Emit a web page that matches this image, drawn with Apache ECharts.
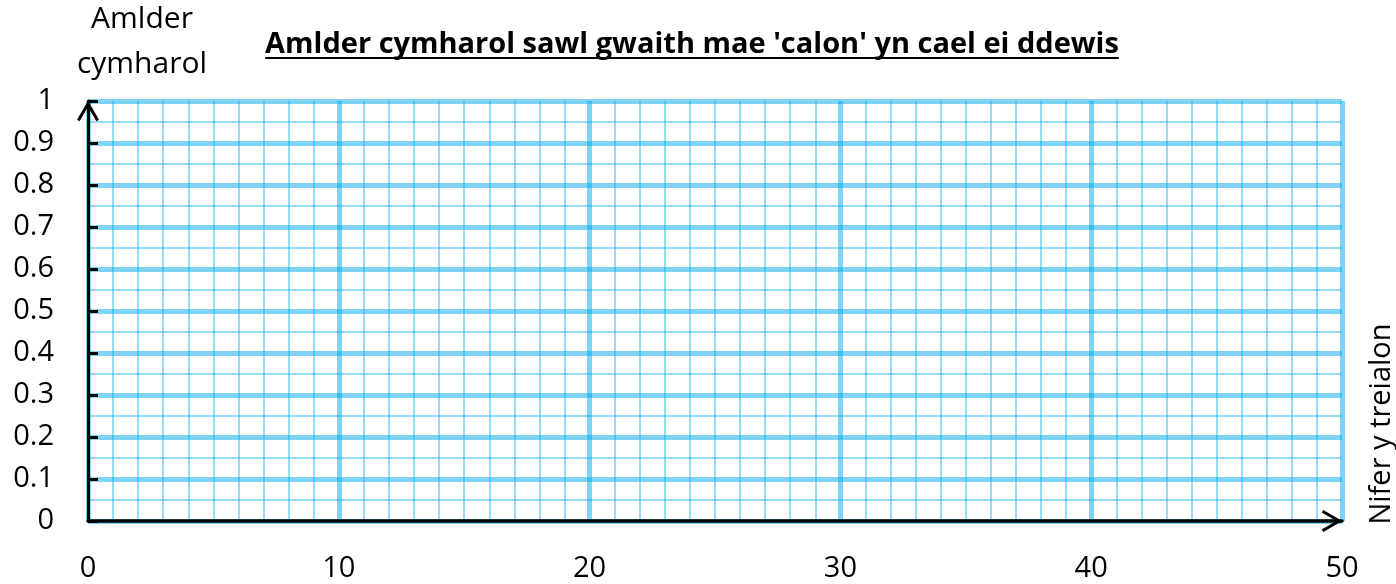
<!DOCTYPE html>
<html>
<head>
<meta charset="utf-8">
<script src="https://cdn.jsdelivr.net/npm/echarts@6/dist/echarts.min.js"></script>
<style>
html,body{margin:0;padding:0;background:#fff;}
#chart{width:1396px;height:584px;}
</style>
</head>
<body>
<div id="chart"></div>
<script>
// ---- data ----
const titleText = "Amlder cymharol sawl gwaith mae 'calon' yn cael ei ddewis";
const yAxisName = "Amlder\ncymharol";
const xAxisName = "Nifer y treialon";
const xTicks = [0, 10, 20, 30, 40, 50];
const yTicks = [0, 0.1, 0.2, 0.3, 0.4, 0.5, 0.6, 0.7, 0.8, 0.9, 1];
const xMinorPerMajor = 10;   // minor grid every 1 trial
const yMinorPerMajor = 2;    // minor grid every 0.05
const seriesValues = [];     // empty grid: no plotted data

// ---- styles ----
const FONT = '"Open Sans", "DejaVu Sans", sans-serif';
const majorColor = 'rgba(0,170,235,0.5)';
const minorColor = 'rgba(0,170,235,0.55)';
const chevron = 'path://M11,0 L22,19 L19.4,20.5 L11,6 L2.6,20.5 L0,19 Z';

const chart = echarts.init(document.getElementById('chart'), null, {renderer: 'canvas'});

const titleSize = 29;
const ctx = document.createElement('canvas').getContext('2d');
ctx.font = 'bold ' + titleSize + 'px ' + FONT;
const titleW = ctx.measureText(titleText).width;
const titleCx = 692;

const option = {
  animation: false,
  backgroundColor: '#fff',
  grid: {left: 88, right: 54, top: 101, bottom: 63, containLabel: false, outerBoundsMode: 'none'},
  xAxis: {
    type: 'value',
    min: xTicks[0], max: xTicks[xTicks.length - 1], interval: xTicks[1] - xTicks[0],
    axisLine: {show: true, lineStyle: {color: '#000', width: 3.5}, symbol: ['none', chevron], symbolSize: [22, 20.5], symbolOffset: [0, -10]},
    axisTick: {show: false},
    axisLabel: {show: true, color: '#000', fontSize: 29, fontFamily: FONT, margin: 33},
    splitLine: {show: true, lineStyle: {color: majorColor, width: 5}},
    minorTick: {show: false, splitNumber: xMinorPerMajor},
    minorSplitLine: {show: true, lineStyle: {color: minorColor, width: 1.5}}
  },
  yAxis: {
    type: 'value',
    min: yTicks[0], max: yTicks[yTicks.length - 1], interval: yTicks[1] - yTicks[0],
    name: yAxisName,
    nameLocation: 'end',
    nameGap: 12,
    nameTextStyle: {color: '#000', fontSize: 30, fontFamily: FONT, lineHeight: 45, align: 'center', padding: [0, 0, 0, 108]},
    axisLine: {show: true, lineStyle: {color: '#000', width: 3}, symbol: ['none', chevron], symbolSize: [22, 20.5], symbolOffset: [0, -10]},
    axisTick: {show: true, inside: true, length: 10, lineStyle: {color: '#000', width: 3}},
    axisLabel: {show: true, color: '#000', fontSize: 29, fontFamily: FONT, margin: 34,
      formatter: function (v) { const i = yTicks.findIndex(t => Math.abs(t - v) < 1e-9); return i >= 0 ? String(yTicks[i]) : ''; }},
    splitLine: {show: true, lineStyle: {color: majorColor, width: 5}},
    minorTick: {show: false, splitNumber: yMinorPerMajor},
    minorSplitLine: {show: true, lineStyle: {color: minorColor, width: 1.5}}
  },
  series: [{type: 'scatter', data: seriesValues}],
  graphic: [
    {type: 'text', x: titleCx, y: 45, style: {text: titleText, font: 'bold ' + titleSize + 'px ' + FONT, fill: '#000', textAlign: 'center', textVerticalAlign: 'middle'}},
    {type: 'rect', shape: {x: titleCx - titleW / 2, y: 57, width: titleW, height: 2}, style: {fill: '#000'}},
    {type: 'text', x: 1382, y: 424, rotation: Math.PI / 2, style: {text: xAxisName, font: '29px ' + FONT, fill: '#000', textAlign: 'center', textVerticalAlign: 'middle'}}
  ]
};
chart.setOption(option);
</script>
</body>
</html>
